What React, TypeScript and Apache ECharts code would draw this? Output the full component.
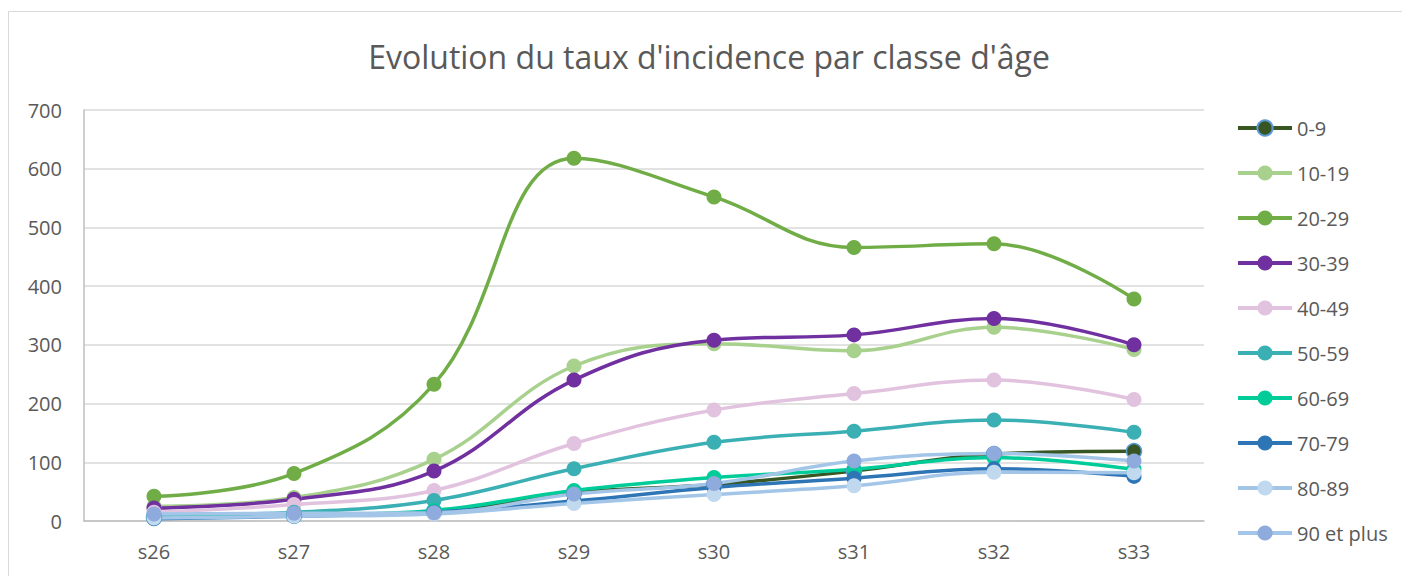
import React, { useEffect, useRef } from "react";
import * as echarts from "echarts";

const categories = ["s26", "s27", "s28", "s29", "s30", "s31", "s32", "s33"];
const seriesNames = ["0-9", "10-19", "20-29", "30-39", "40-49", "50-59", "60-69", "70-79", "80-89", "90 et plus"];
const v0_9 = [6, 9, 16, 48, 62, 85, 114, 119];
const v10_19 = [25, 40, 105, 264, 302, 290, 330, 292];
const v20_29 = [42, 81, 233, 618, 552, 466, 472, 378];
const v30_39 = [22, 37, 85, 240, 308, 317, 345, 300];
const v40_49 = [15, 28, 52, 132, 189, 217, 240, 207];
const v50_59 = [10, 15, 35, 89, 134, 153, 172, 151];
const v60_69 = [5, 10, 18, 52, 74, 88, 108, 88];
const v70_79 = [4, 8, 15, 34, 57, 73, 89, 76];
const v80_89 = [5, 8, 12, 30, 45, 60, 83, 82];
const v90p = [12, 13, 14, 46, 64, 102, 115, 102];
const allValues = [v0_9, v10_19, v20_29, v30_39, v40_49, v50_59, v60_69, v70_79, v80_89, v90p];
const yTicks = [0, 100, 200, 300, 400, 500, 600, 700];

const lineColors = ["#375623", "#a9d18e", "#70ad47", "#7030a0", "#e2c3df", "#3bb0b4", "#00cc99", "#2e75b6", "#a3c6e8", "#a3c6e8"];
const markerColors = ["#375623", "#a9d18e", "#70ad47", "#7030a0", "#e2c3df", "#3bb0b4", "#00cc99", "#2e75b6", "#c0d9ef", "#8faadc"];

export default function App() {
  const ref = useRef<HTMLDivElement>(null);
  useEffect(() => {
    if (!ref.current) return;
    const chart = echarts.init(ref.current, null, { renderer: "svg" });
    const font = "Open Sans, Liberation Sans, sans-serif";
    chart.setOption({
      animation: false,
      backgroundColor: "#ffffff",
      textStyle: { fontFamily: font },
      graphic: [
        {
          type: "rect",
          shape: { x: 0.5, y: 3.5, width: 1420, height: 600 },
          style: { fill: "none", stroke: "#d9d9d9", lineWidth: 1 },
          silent: true,
        },
      ],
      title: {
        text: "Evolution du taux d'incidence par classe d'âge",
        left: "center",
        top: 27,
        textStyle: { fontSize: 32, fontWeight: "normal", color: "#595959", fontFamily: font },
      },
      legend: {
        orient: "vertical",
        left: 1228,
        top: 110,
        padding: 0,
        itemWidth: 54,
        itemHeight: 19,
        itemGap: 25,
        lineStyle: { width: 4 },
        textStyle: { fontSize: 20, color: "#595959", fontFamily: font },
        data: seriesNames,
      },
      grid: { left: 76, right: 206, top: 102, bottom: 55, containLabel: false },
      xAxis: {
        type: "category",
        data: categories,
        boundaryGap: true,
        axisLine: { show: true, lineStyle: { color: "#bfbfbf", width: 1.5 } },
        axisTick: { show: false },
        axisLabel: { fontSize: 20, color: "#595959", margin: 20 },
      },
      yAxis: {
        type: "value",
        min: 0,
        max: 700,
        interval: 100,
        axisLine: { show: true, lineStyle: { color: "#bfbfbf", width: 1.5 } },
        axisTick: { show: false },
        axisLabel: {
          fontSize: 20,
          color: "#595959",
          margin: 22,
          formatter: (v: number) => (yTicks.includes(v) ? String(v) : ""),
        },
        splitLine: { show: true, lineStyle: { color: "#d9d9d9", width: 1.5 } },
      },
      series: seriesNames.map((name, i) => ({
        name,
        type: "line",
        data: allValues[i],
        smooth: 0.4,
        symbol: "circle",
        symbolSize: 15,
        lineStyle: { color: lineColors[i], width: 3.5 },
        itemStyle:
          i === 0
            ? { color: markerColors[i], borderColor: "#5b9bd5", borderWidth: 1.5 }
            : { color: markerColors[i] },
        emphasis: { disabled: true },
      })),
    });
    return () => chart.dispose();
  }, []);
  return <div ref={ref} style={{ width: 1402, height: 568 }} />;
}
